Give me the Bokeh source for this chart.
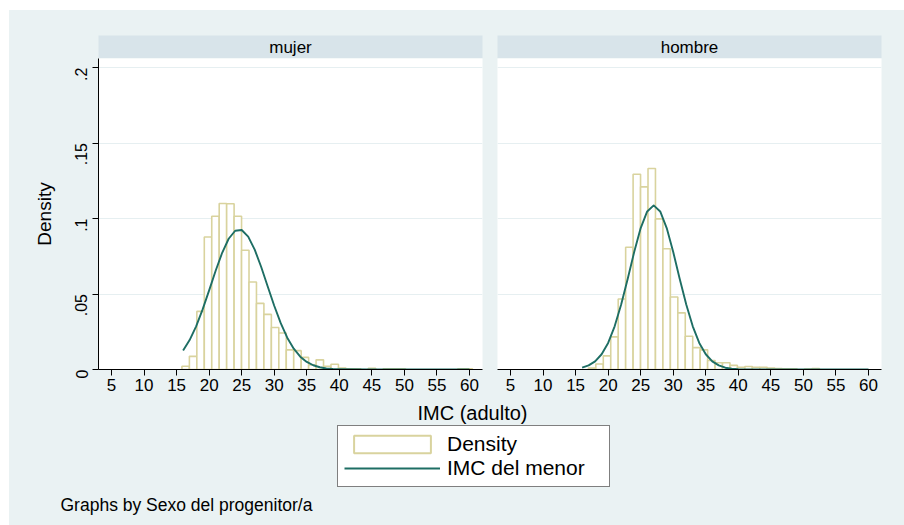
import math
from bokeh.plotting import figure
from bokeh.models import (Range1d, FixedTicker, CustomJSTickFormatter, Grid,
                          Legend, LegendItem)
from bokeh.layouts import column, row
from bokeh.core.properties import value
from bokeh.embed import file_html
from bokeh.resources import INLINE

# ---------------- data ----------------
panel_titles = ["mujer", "hombre"]

bin_edges = [15.82, 16.965, 18.11, 19.255, 20.40, 21.545, 22.69, 23.835, 24.98,
             26.125, 27.27, 28.415, 29.56, 30.705, 31.85, 32.995, 34.14, 35.285,
             36.43, 37.575, 38.72, 39.865, 41.01, 42.155, 43.30, 44.445, 45.59,
             46.735, 47.88, 49.025, 50.17, 51.315, 52.46, 53.605, 54.75, 55.895,
             57.04, 58.185, 59.33, 60.475]

mujer_density = [0.0022, 0.0087, 0.0385, 0.0878, 0.1015, 0.1100, 0.1098, 0.1015,
                 0.0790, 0.0580, 0.0438, 0.0365, 0.0278, 0.0242, 0.0130, 0.0125,
                 0.0080, 0.0030, 0.0064, 0.0022, 0.0035, 0.0010, 0.0005, 0.0005,
                 0.0, 0.0008, 0.0, 0.0005, 0.0005, 0.0005, 0.0, 0.0, 0.0, 0.0,
                 0.0, 0.0, 0.0, 0.0004, 0.0004]

hombre_density = [0.0, 0.0010, 0.0036, 0.0090, 0.0216, 0.0467, 0.0810, 0.1293,
                  0.1210, 0.1331, 0.0998, 0.0800, 0.0480, 0.0375, 0.0220, 0.0145,
                  0.0130, 0.0060, 0.0045, 0.0045, 0.0027, 0.0015, 0.0020, 0.0015,
                  0.0015, 0.0010, 0.0007, 0.0005, 0.0005, 0.0, 0.0003, 0.0007,
                  0.0, 0.0, 0.0, 0.0, 0.0, 0.0, 0.0]

curve_x = [16, 17, 18, 19, 20, 21, 22, 23, 24, 25, 26, 27, 28, 29, 30, 31, 32,
           33, 34, 35, 36, 37, 38, 39, 40, 45, 50, 55, 60]

mujer_curve = [0.0126, 0.0195, 0.0286, 0.0398, 0.0524, 0.0654, 0.0773, 0.0866,
               0.0919, 0.0924, 0.0880, 0.0794, 0.0679, 0.0550, 0.0422, 0.0307,
               0.0211, 0.0138, 0.0085, 0.0050, 0.0028, 0.0015, 0.0007, 0.0003,
               0.0002, 0.0, 0.0, 0.0, 0.0]

hombre_curve = [0.0012, 0.0027, 0.0054, 0.0101, 0.0176, 0.0286, 0.0430, 0.0600,
                0.0778, 0.0937, 0.1047, 0.1087, 0.1047, 0.0937, 0.0778, 0.0600,
                0.0430, 0.0286, 0.0176, 0.0101, 0.0054, 0.0027, 0.0012, 0.0005,
                0.0002, 0.0, 0.0, 0.0, 0.0]

x_ticks = [5, 10, 15, 20, 25, 30, 35, 40, 45, 50, 55, 60]
y_ticks = [0, 0.05, 0.1, 0.15, 0.2]
x_title = "IMC (adulto)"
y_title = "Density"
legend_labels = ["Density", "IMC del menor"]
note_text = "Graphs by Sexo del progenitor/a"

# ---------------- styles ----------------
FONT = "Liberation Sans"
BG = "#eaf2f3"
STRIP = "#d8e4ea"
GRID = "#e6eff1"
KHAKI = "#d9d39e"
TEAL = "#1e6e64"

X_RANGE = (3, 62)
Y_RANGE = (0, 0.206)


def make_strip(title, width, left, right):
    s = figure(width=width, height=48, x_range=Range1d(0, 1), y_range=Range1d(0, 1),
               output_backend="svg", toolbar_location=None,
               x_axis_location=None, y_axis_location=None,
               min_border_left=left, min_border_right=right,
               min_border_top=25, min_border_bottom=0)
    s.background_fill_color = STRIP
    s.border_fill_color = BG
    s.outline_line_color = None
    s.grid.visible = False
    s.text(x=[0.5], y=[0.5], text=[title], text_align="center",
           text_baseline="middle", text_font=value(FONT),
           text_font_size="17px", text_color="black")
    return s


def make_panel(density, curve, width, left, right, with_yaxis):
    p = figure(width=width, height=341, x_range=Range1d(*X_RANGE),
               y_range=Range1d(*Y_RANGE), output_backend="svg",
               toolbar_location=None,
               y_axis_location="left" if with_yaxis else None,
               min_border_left=left, min_border_right=right,
               min_border_top=0, min_border_bottom=30)
    p.background_fill_color = "white"
    p.border_fill_color = BG
    p.outline_line_color = None
    p.grid.visible = False
    p.add_layout(Grid(dimension=1, ticker=FixedTicker(ticks=y_ticks),
                      grid_line_color=GRID, grid_line_width=1))

    lefts = [bin_edges[i] for i, d in enumerate(density) if d > 0]
    rights = [bin_edges[i + 1] for i, d in enumerate(density) if d > 0]
    tops = [d for d in density if d > 0]
    p.quad(left=lefts, right=rights, top=tops, bottom=0,
           fill_color="white", line_color=KHAKI, line_width=1.6)
    p.line(curve_x, curve, line_color=TEAL, line_width=1.9, line_join="round")

    xa = p.xaxis[0]
    xa.ticker = FixedTicker(ticks=x_ticks)
    xa.major_tick_out = 6
    xa.major_tick_in = 0
    xa.minor_tick_out = 0
    xa.minor_tick_in = 0
    xa.axis_line_color = "black"
    xa.major_tick_line_color = "black"
    xa.major_label_text_font = FONT
    xa.major_label_text_font_size = "17px"
    xa.major_label_text_color = "black"
    xa.major_label_standoff = 3

    if with_yaxis:
        ya = p.yaxis[0]
        ya.ticker = FixedTicker(ticks=y_ticks)
        ya.formatter = CustomJSTickFormatter(code="""
            if (tick == 0) { return "0"; }
            let s = tick.toFixed(2).replace(/0+$/, "");
            return s.replace(/^0/, "");
        """)
        ya.major_label_orientation = math.pi / 2
        ya.major_tick_out = 6
        ya.major_tick_in = 0
        ya.minor_tick_out = 0
        ya.minor_tick_in = 0
        ya.axis_line_color = "black"
        ya.major_tick_line_color = "black"
        ya.major_label_text_font = FONT
        ya.major_label_text_font_size = "16px"
        ya.major_label_text_color = "black"
        ya.major_label_standoff = 11
        ya.axis_label = y_title
        ya.axis_label_text_font = FONT
        ya.axis_label_text_font_size = "19px"
        ya.axis_label_text_font_style = "normal"
        ya.axis_label_text_color = "black"
        ya.axis_label_standoff = 12
    return p


s1 = make_strip(panel_titles[0], 481, 89, 8)
s2 = make_strip(panel_titles[1], 414, 7, 23)
p1 = make_panel(mujer_density, mujer_curve, 481, 89, 8, True)
p2 = make_panel(hombre_density, hombre_curve, 414, 7, 23, False)

# bottom area: shared x title, legend, note
BW, BH = 895, 126
pb = figure(width=BW, height=BH, x_range=Range1d(0, BW), y_range=Range1d(0, BH),
            output_backend="svg", toolbar_location=None,
            x_axis_location=None, y_axis_location=None,
            min_border_left=0, min_border_right=0, min_border_top=0,
            min_border_bottom=0)
pb.background_fill_color = BG
pb.border_fill_color = BG
pb.outline_line_color = None
pb.grid.visible = False

pb.text(x=[463], y=[113], text=[x_title], text_align="center",
        text_baseline="middle", text_font=value(FONT), text_font_size="20px",
        text_color="black")
pb.text(x=[51], y=[21], text=[note_text], text_align="left",
        text_baseline="middle", text_font=value(FONT), text_font_size="17.5px",
        text_color="black")

# legend sample glyphs (placed outside the visible range of this panel)
r_bar = pb.quad(left=[-20], right=[-10], top=[-10], bottom=[-20], fill_color="white",
                line_color=KHAKI, line_width=2)
r_line = pb.line(x=[-20, -10], y=[-20, -20], line_color=TEAL, line_width=2)

legend = Legend(items=[LegendItem(label=legend_labels[0], renderers=[r_bar]),
                       LegendItem(label=legend_labels[1], renderers=[r_line])],
                location=(328, 38), orientation="vertical",
                border_line_color="black", border_line_width=1,
                background_fill_color="white", background_fill_alpha=1.0,
                glyph_width=96, glyph_height=22, label_standoff=7,
                label_width=156, label_height=22,
                label_text_font=FONT, label_text_font_size="21px",
                label_text_color="black", padding=6, spacing=0, margin=0)
pb.add_layout(legend)

inner = column(row(s1, s2), row(p1, p2), pb, styles={"background-color": BG})
inner.margin = (10, 0, 0, 9)

with open("out.html", "w") as f:
    f.write(file_html(inner, INLINE))
